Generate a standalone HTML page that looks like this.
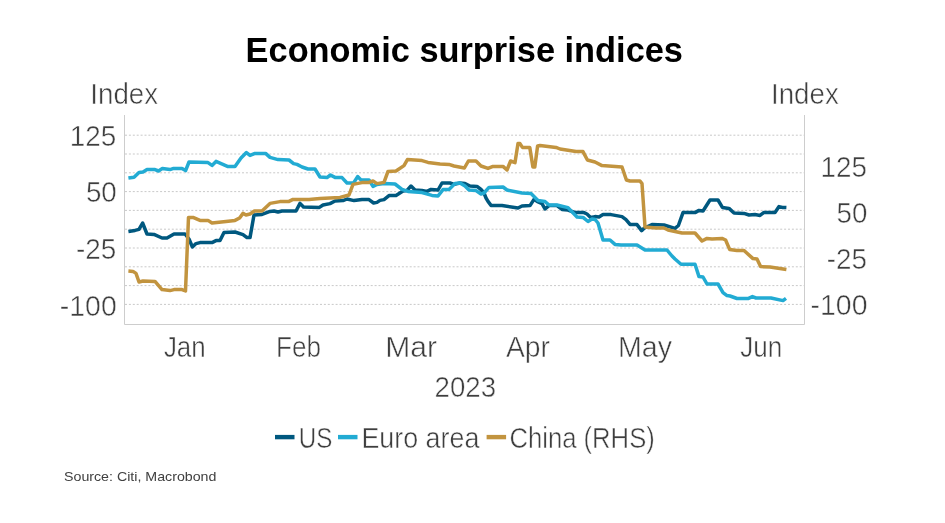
<!DOCTYPE html>
<html lang="en"><head><meta charset="utf-8"><title>Economic surprise indices</title>
<style>
html,body{margin:0;padding:0;background:#fff;}
body{width:945px;height:523px;overflow:hidden;font-family:"Liberation Sans",sans-serif;}
svg{display:block;font-family:"Liberation Sans",sans-serif;}
.lt{fill:#3e3e3e;stroke:#fff;stroke-width:0.5px;font-size:28.9px;}
.lt .n{font-size:28.9px;}
.grid line{stroke:#c9c9c9;stroke-width:1;stroke-dasharray:2 1.9;}
.ax{stroke:#cdcdcd;stroke-width:1;fill:none;}
.s{fill:none;stroke-width:3.5;stroke-linejoin:round;stroke-linecap:butt;}
</style></head>
<body>
<svg width="945" height="523" viewBox="0 0 945 523">
<rect width="945" height="523" fill="#fff"/>
<text x="464.3" y="62" text-anchor="middle" font-size="34.4" font-weight="bold" fill="#000" textLength="437.4" lengthAdjust="spacingAndGlyphs">Economic surprise indices</text>
<g class="lt">
<text x="90.3" y="104.2" textLength="67.8" lengthAdjust="spacingAndGlyphs">Index</text>
<text x="771" y="104.2" textLength="67.8" lengthAdjust="spacingAndGlyphs">Index</text>
<text x="116.2" y="145.6" text-anchor="end" textLength="46.4" lengthAdjust="spacingAndGlyphs" class="n">125</text>
<text x="116.8" y="202.2" text-anchor="end" textLength="30.9" lengthAdjust="spacingAndGlyphs" class="n">50</text>
<text x="116.2" y="258.9" text-anchor="end" textLength="40.2" lengthAdjust="spacingAndGlyphs" class="n">-25</text>
<text x="116.8" y="315.5" text-anchor="end" textLength="57" lengthAdjust="spacingAndGlyphs" class="n">-100</text>
<text x="867" y="176.7" text-anchor="end" textLength="46.4" lengthAdjust="spacingAndGlyphs" class="n">125</text>
<text x="867.5" y="222.9" text-anchor="end" textLength="30.9" lengthAdjust="spacingAndGlyphs" class="n">50</text>
<text x="867" y="269.1" text-anchor="end" textLength="40.2" lengthAdjust="spacingAndGlyphs" class="n">-25</text>
<text x="867.5" y="315.3" text-anchor="end" textLength="57" lengthAdjust="spacingAndGlyphs" class="n">-100</text>
<text x="184.8" y="356.6" text-anchor="middle" textLength="41.8" lengthAdjust="spacingAndGlyphs">Jan</text>
<text x="298.6" y="356.6" text-anchor="middle" textLength="45" lengthAdjust="spacingAndGlyphs">Feb</text>
<text x="411.1" y="356.6" text-anchor="middle" textLength="51.8" lengthAdjust="spacingAndGlyphs">Mar</text>
<text x="528" y="356.6" text-anchor="middle" textLength="44" lengthAdjust="spacingAndGlyphs">Apr</text>
<text x="645" y="356.6" text-anchor="middle" textLength="54" lengthAdjust="spacingAndGlyphs">May</text>
<text x="761.2" y="356.6" text-anchor="middle" textLength="42" lengthAdjust="spacingAndGlyphs">Jun</text>
<text x="465.3" y="396.6" text-anchor="middle" textLength="61.5" lengthAdjust="spacingAndGlyphs" class="n">2023</text>
<text x="298.7" y="447.5" textLength="33.6" lengthAdjust="spacingAndGlyphs">US</text>
<text x="361.4" y="447.5" textLength="118" lengthAdjust="spacingAndGlyphs">Euro area</text>
<text x="509.4" y="447.5" textLength="145.4" lengthAdjust="spacingAndGlyphs">China (RHS)</text>
</g>
<g class="grid">
<line x1="125" x2="804" y1="135.2" y2="135.2"/>
<line x1="125" x2="804" y1="154.0" y2="154.0"/>
<line x1="125" x2="804" y1="172.8" y2="172.8"/>
<line x1="125" x2="804" y1="191.6" y2="191.6"/>
<line x1="125" x2="804" y1="210.4" y2="210.4"/>
<line x1="125" x2="804" y1="229.2" y2="229.2"/>
<line x1="125" x2="804" y1="248.0" y2="248.0"/>
<line x1="125" x2="804" y1="266.8" y2="266.8"/>
<line x1="125" x2="804" y1="285.6" y2="285.6"/>
<line x1="125" x2="804" y1="304.4" y2="304.4"/>
</g>
<path class="ax" d="M124.5 115V324.5H804.5V115"/>
<polyline class="s" stroke="#00587f" points="128.4,231.4 135,230.4 139,229.4 142.6,223 147,234 154,234.4 162,238 167,238 174,234 185,234 189,239 192.4,247 196,243.6 200,242.6 212,242.6 216,240.6 220,240.6 224,232.4 235,232 243,234.6 247,237.6 250,237.6 254,215 262,214.4 270,211.4 274,211 278,212 282,211 296,211 300,203.4 303.5,207 319,207.6 323,205 330,203.6 335,201 343,200.6 347,199 354,200.6 362,199.4 369,199.6 373.6,203 377,202.4 380,200.4 384,199.6 389,195.6 396,195.4 403,191 407,190.4 411,186 415,190 422,190.4 427,191.4 431,189.4 438,190 442,183 450,183 454,184.4 460,183 465,183.6 470,186 477,186.4 481,189.5 484,193 486,198 488,201.4 491,205.4 502,205.6 518,208 522,206 530,205.6 534,199.4 537,201.4 542,203.6 545,209 549,205.6 557,205.6 562,209.4 568,210 575,212.6 584,212.6 587,214 590.6,217.4 595,216.6 599,217 603,214.6 611,214.6 622,216.6 626,219.6 630,224.4 637,224.6 641.6,230.6 644.4,228 652,224.5 664,225 675,228.4 678.4,225.5 683,212.6 695,212.6 699,210.4 703,211 710,200 718,200 722.4,207.4 729,208.4 734,213 744,213.4 749,215 755,214.6 760,215.4 764,212.4 775,212.4 779,206.6 782.4,207.4 786.4,207.6"/>
<polyline class="s" stroke="#22abd3" points="128.4,178 134,177.2 139,172.4 143,172 147,169.6 155,169.6 158.6,171 162.4,168.4 170,169.6 173.6,168.4 182,168.4 185.6,170.6 189,162 208,162.6 212,165.4 216,161.4 228,166.6 235,166.6 241,158 246.4,152.6 250,155.4 254.4,153.6 265.6,153.4 270,157.4 278,159.6 289,160 293.6,163.6 297,164.4 302,167 308,169 315,169 320,177 327,177.6 330.4,175 335,177.4 342,177.6 347,183 353.6,183 357.6,176.6 361,180 369,180 373,186.4 377,184.4 384,183.6 395,184 402,189.4 408,191.4 422,192.6 432,195.4 438,196 443,189.6 449,189.4 455,183.6 460,183 465,186 469,190 476,190.6 481,194 484,193 489,187.4 503,187 507,190 522,193 531,193.6 538,200.6 545,201.6 549,205 557,205 568,207.6 577,217 583,217.4 588,221.5 592,219 595,219.4 598,223 603,240 610,240 615,244.4 621,245 637,245 645,250 667,250 672,256 675,259 681,264.2 695,264.2 699,276.6 703,277 707,284 718,284 723,292.6 727,295.6 730,296 737,298.5 748,298.6 752.4,296.6 756,298 771,298 783,300.6 786,298.4"/>
<polyline class="s" stroke="#c2943f" points="128.4,271 133,271.4 136,273.4 139,282 143,281 155,281.4 162,289.6 170,290.6 174,289.6 182,289.6 185.5,291 188.5,217.4 193,217.4 200,220.4 208,220.4 212,223 226,221.4 235,220.4 239.6,218 243,213.4 246,215 250,214 254.4,211 262,211 270,203.4 280,201.6 289,201.4 293,199.4 309,199.4 320,198.6 340,197.4 349,195 353,184.4 362,182.6 369,182.4 373,181 377,183.6 384,182.4 388,171.4 396,171 404,165.6 407.4,159.6 422,160.6 428,162.4 440,164 449,164.4 454,166 464.4,168 468.4,161 476,161 481,166 488,168.4 493,166.4 503,166.4 507,170 510.6,161 515,162.6 518,143.6 520,143.6 522.4,147.4 529.8,147.6 532.9,166.9 534.8,166.9 537.6,146 540,145.6 556,147.4 560,149 576,151.6 583,151.6 587.4,160 595,162 602,165.6 622,167 626.4,180 630,181 640,181 642,183.6 645,227 656,228 664,228 668,230 682,233 695,233 702,241 707,238.4 712,239 722,238.4 725.6,240 729.6,249.4 737,250.6 744,250.5 753,258.6 757,259 760.6,266.6 770,267 786.4,269.6"/>
<rect x="275" y="434.9" width="19.5" height="4.4" fill="#00587f"/>
<rect x="338" y="434.9" width="19.5" height="4.4" fill="#22abd3"/>
<rect x="486.6" y="434.9" width="19.5" height="4.4" fill="#c2943f"/>
<text x="64" y="480.7" font-size="13.5" fill="#404040" textLength="152.4" lengthAdjust="spacingAndGlyphs">Source: Citi, Macrobond</text>
</svg>
</body></html>
